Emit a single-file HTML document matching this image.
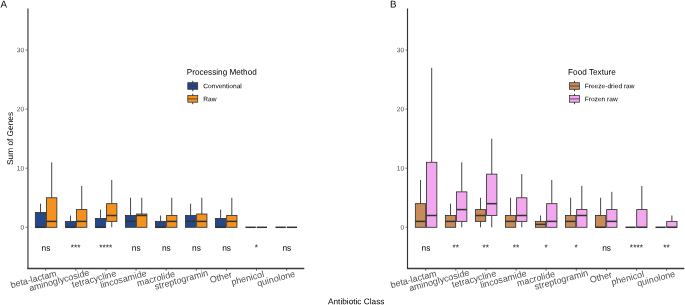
<!DOCTYPE html>
<html><head><meta charset="utf-8"><title>Figure</title>
<style>
html,body{margin:0;padding:0;background:#fff;}
body{width:685px;height:305px;overflow:hidden;}
svg{display:block;font-family:"Liberation Sans",sans-serif;text-rendering:geometricPrecision;}
</style></head><body>
<svg width="685" height="305" viewBox="0 0 685 305">
<rect width="685" height="305" fill="#fff"/>
<text transform="translate(0.5,7.5) rotate(-0.05)" font-size="9.75" fill="#000">A</text>
<line x1="40.50" x2="40.50" y1="203.67" y2="212.53" stroke="#333" stroke-width="0.9"/>
<rect x="35.35" y="212.53" width="10.3" height="14.77" fill="#24478a" stroke="#333" stroke-width="0.85"/>
<line x1="35.35" x2="45.65" y1="227.30" y2="227.30" stroke="#333" stroke-width="1.5"/>
<line x1="51.70" x2="51.70" y1="162.32" y2="197.77" stroke="#333" stroke-width="0.9"/>
<rect x="46.55" y="197.77" width="10.3" height="29.54" fill="#f5921e" stroke="#333" stroke-width="0.85"/>
<line x1="46.55" x2="56.85" y1="221.39" y2="221.39" stroke="#333" stroke-width="1.5"/>
<text transform="translate(45.90,250.85) rotate(-0.05)" font-size="8.4" text-anchor="middle" fill="#000">ns</text>
<line x1="45.70" x2="45.70" y1="268.4" y2="270.7" stroke="#444" stroke-width="0.8"/>
<text transform="translate(47.90,278.40) rotate(-15)" x="9.43" font-size="9.02" text-anchor="end" fill="#4d4d4d">beta-lactam</text>
<line x1="70.52" x2="70.52" y1="215.49" y2="221.39" stroke="#333" stroke-width="0.9"/>
<rect x="65.37" y="221.39" width="10.3" height="5.91" fill="#24478a" stroke="#333" stroke-width="0.85"/>
<line x1="65.37" x2="75.67" y1="227.30" y2="227.30" stroke="#333" stroke-width="1.5"/>
<line x1="81.72" x2="81.72" y1="185.95" y2="209.58" stroke="#333" stroke-width="0.9"/>
<rect x="76.57" y="209.58" width="10.3" height="17.72" fill="#f5921e" stroke="#333" stroke-width="0.85"/>
<line x1="76.57" x2="86.87" y1="221.39" y2="221.39" stroke="#333" stroke-width="1.5"/>
<text transform="translate(75.67,250.30) rotate(-0.05)" font-size="8.4" text-anchor="middle" fill="#000">***</text>
<line x1="75.82" x2="75.82" y1="268.4" y2="270.7" stroke="#444" stroke-width="0.8"/>
<text transform="translate(77.93,278.40) rotate(-15)" x="12.43" font-size="9.02" text-anchor="end" fill="#4d4d4d">aminoglycoside</text>
<line x1="100.54" x2="100.54" y1="209.58" y2="218.44" stroke="#333" stroke-width="0.9"/>
<rect x="95.39" y="218.44" width="10.3" height="8.86" fill="#24478a" stroke="#333" stroke-width="0.85"/>
<line x1="95.39" x2="105.69" y1="227.30" y2="227.30" stroke="#333" stroke-width="1.5"/>
<line x1="111.74" x2="111.74" y1="180.04" y2="203.67" stroke="#333" stroke-width="0.9"/>
<line x1="111.74" x2="111.74" y1="221.39" y2="227.30" stroke="#333" stroke-width="0.9"/>
<rect x="106.59" y="203.67" width="10.3" height="17.72" fill="#f5921e" stroke="#333" stroke-width="0.85"/>
<line x1="106.59" x2="116.89" y1="215.49" y2="215.49" stroke="#333" stroke-width="1.5"/>
<text transform="translate(105.79,250.30) rotate(-0.05)" font-size="8.4" text-anchor="middle" fill="#000">****</text>
<line x1="105.94" x2="105.94" y1="268.4" y2="270.7" stroke="#444" stroke-width="0.8"/>
<text transform="translate(107.96,278.40) rotate(-15)" x="9.12" font-size="9.02" text-anchor="end" fill="#4d4d4d">tetracycline</text>
<line x1="130.56" x2="130.56" y1="197.77" y2="215.49" stroke="#333" stroke-width="0.9"/>
<rect x="125.41" y="215.49" width="10.3" height="11.81" fill="#24478a" stroke="#333" stroke-width="0.85"/>
<line x1="125.41" x2="135.71" y1="221.39" y2="221.39" stroke="#333" stroke-width="1.5"/>
<line x1="141.76" x2="141.76" y1="197.77" y2="214.01" stroke="#333" stroke-width="0.9"/>
<rect x="136.61" y="214.01" width="10.3" height="13.29" fill="#f5921e" stroke="#333" stroke-width="0.85"/>
<line x1="136.61" x2="146.91" y1="215.49" y2="215.49" stroke="#333" stroke-width="1.5"/>
<text transform="translate(136.26,250.85) rotate(-0.05)" font-size="8.4" text-anchor="middle" fill="#000">ns</text>
<line x1="136.06" x2="136.06" y1="268.4" y2="270.7" stroke="#444" stroke-width="0.8"/>
<text transform="translate(137.99,278.40) rotate(-15)" x="9.53" font-size="9.02" text-anchor="end" fill="#4d4d4d">lincosamide</text>
<line x1="160.58" x2="160.58" y1="215.49" y2="221.39" stroke="#333" stroke-width="0.9"/>
<rect x="155.43" y="221.39" width="10.3" height="5.91" fill="#24478a" stroke="#333" stroke-width="0.85"/>
<line x1="155.43" x2="165.73" y1="227.30" y2="227.30" stroke="#333" stroke-width="1.5"/>
<line x1="171.78" x2="171.78" y1="197.77" y2="215.49" stroke="#333" stroke-width="0.9"/>
<rect x="166.63" y="215.49" width="10.3" height="11.81" fill="#f5921e" stroke="#333" stroke-width="0.85"/>
<line x1="166.63" x2="176.93" y1="221.39" y2="221.39" stroke="#333" stroke-width="1.5"/>
<text transform="translate(166.38,250.85) rotate(-0.05)" font-size="8.4" text-anchor="middle" fill="#000">ns</text>
<line x1="166.18" x2="166.18" y1="268.4" y2="270.7" stroke="#444" stroke-width="0.8"/>
<text transform="translate(168.02,278.40) rotate(-15)" x="7.82" font-size="9.02" text-anchor="end" fill="#4d4d4d">macrolide</text>
<line x1="190.60" x2="190.60" y1="203.67" y2="215.49" stroke="#333" stroke-width="0.9"/>
<rect x="185.45" y="215.49" width="10.3" height="11.81" fill="#24478a" stroke="#333" stroke-width="0.85"/>
<line x1="185.45" x2="195.75" y1="221.39" y2="221.39" stroke="#333" stroke-width="1.5"/>
<line x1="201.80" x2="201.80" y1="197.77" y2="214.01" stroke="#333" stroke-width="0.9"/>
<rect x="196.65" y="214.01" width="10.3" height="13.29" fill="#f5921e" stroke="#333" stroke-width="0.85"/>
<line x1="196.65" x2="206.95" y1="221.39" y2="221.39" stroke="#333" stroke-width="1.5"/>
<text transform="translate(196.50,250.85) rotate(-0.05)" font-size="8.4" text-anchor="middle" fill="#000">ns</text>
<line x1="196.30" x2="196.30" y1="268.4" y2="270.7" stroke="#444" stroke-width="0.8"/>
<text transform="translate(198.05,278.40) rotate(-15)" x="11.03" font-size="9.02" text-anchor="end" fill="#4d4d4d">streptogramin</text>
<line x1="220.62" x2="220.62" y1="209.58" y2="218.44" stroke="#333" stroke-width="0.9"/>
<rect x="215.47" y="218.44" width="10.3" height="8.86" fill="#24478a" stroke="#333" stroke-width="0.85"/>
<line x1="215.47" x2="225.77" y1="227.30" y2="227.30" stroke="#333" stroke-width="1.5"/>
<line x1="231.82" x2="231.82" y1="197.77" y2="215.49" stroke="#333" stroke-width="0.9"/>
<rect x="226.67" y="215.49" width="10.3" height="11.81" fill="#f5921e" stroke="#333" stroke-width="0.85"/>
<line x1="226.67" x2="236.97" y1="221.39" y2="221.39" stroke="#333" stroke-width="1.5"/>
<text transform="translate(226.62,250.85) rotate(-0.05)" font-size="8.4" text-anchor="middle" fill="#000">ns</text>
<line x1="226.42" x2="226.42" y1="268.4" y2="270.7" stroke="#444" stroke-width="0.8"/>
<text transform="translate(228.08,278.40) rotate(-15)" x="4.51" font-size="9.02" text-anchor="end" fill="#4d4d4d">Other</text>
<line x1="245.49" x2="255.79" y1="227.30" y2="227.30" stroke="#333" stroke-width="1.5"/>
<line x1="256.69" x2="266.99" y1="227.30" y2="227.30" stroke="#333" stroke-width="1.5"/>
<text transform="translate(256.39,250.30) rotate(-0.05)" font-size="8.4" text-anchor="middle" fill="#000">*</text>
<line x1="256.54" x2="256.54" y1="268.4" y2="270.7" stroke="#444" stroke-width="0.8"/>
<text transform="translate(258.11,278.40) rotate(-15)" x="6.72" font-size="9.02" text-anchor="end" fill="#4d4d4d">phenicol</text>
<line x1="275.51" x2="285.81" y1="227.30" y2="227.30" stroke="#333" stroke-width="1.5"/>
<line x1="286.71" x2="297.01" y1="227.30" y2="227.30" stroke="#333" stroke-width="1.5"/>
<text transform="translate(286.86,250.85) rotate(-0.05)" font-size="8.4" text-anchor="middle" fill="#000">ns</text>
<line x1="286.66" x2="286.66" y1="268.4" y2="270.7" stroke="#444" stroke-width="0.8"/>
<text transform="translate(288.14,278.40) rotate(-15)" x="7.82" font-size="9.02" text-anchor="end" fill="#4d4d4d">quinolone</text>
<line x1="27.95" x2="27.95" y1="8.5" y2="269.09999999999997" stroke="#333" stroke-width="1.15"/>
<line x1="27.3" x2="304.3" y1="268.5" y2="268.5" stroke="#3a3a3a" stroke-width="1.4"/>
<line x1="25.5" x2="27.7" y1="227.30" y2="227.30" stroke="#333" stroke-width="0.6"/>
<text transform="translate(24.10,229.45) rotate(-0.05)" font-size="6.6" text-anchor="end" fill="#4d4d4d">0</text>
<line x1="25.5" x2="27.7" y1="168.23" y2="168.23" stroke="#333" stroke-width="0.6"/>
<text transform="translate(24.10,170.38) rotate(-0.05)" font-size="6.6" text-anchor="end" fill="#4d4d4d">10</text>
<line x1="25.5" x2="27.7" y1="109.16" y2="109.16" stroke="#333" stroke-width="0.6"/>
<text transform="translate(24.10,111.31) rotate(-0.05)" font-size="6.6" text-anchor="end" fill="#4d4d4d">20</text>
<line x1="25.5" x2="27.7" y1="50.09" y2="50.09" stroke="#333" stroke-width="0.6"/>
<text transform="translate(24.10,52.24) rotate(-0.05)" font-size="6.6" text-anchor="end" fill="#4d4d4d">30</text>
<text transform="translate(186.7,74.7) rotate(-0.05)" font-size="8.2" fill="#000">Processing Method</text>
<line x1="192.74999999999997" x2="192.74999999999997" y1="80.8" y2="91.3" stroke="#333" stroke-width="0.95"/>
<rect x="187.79999999999998" y="82.7" width="9.9" height="6.6" fill="#24478a" stroke="#333" stroke-width="0.75"/>
<line x1="187.79999999999998" x2="197.7" y1="86.0" y2="86.0" stroke="#333" stroke-width="0.75"/>
<text transform="translate(203.30,88.30) rotate(-0.05)" font-size="6.6" fill="#000">Conventional</text>
<line x1="192.74999999999997" x2="192.74999999999997" y1="93.7" y2="104.2" stroke="#333" stroke-width="0.95"/>
<rect x="187.79999999999998" y="95.60000000000001" width="9.9" height="6.6" fill="#f5921e" stroke="#333" stroke-width="0.75"/>
<line x1="187.79999999999998" x2="197.7" y1="98.9" y2="98.9" stroke="#333" stroke-width="0.75"/>
<text transform="translate(203.30,101.20) rotate(-0.05)" font-size="6.6" fill="#000">Raw</text>
<text transform="translate(390.1,7.5) rotate(-0.05)" font-size="9.75" fill="#000">B</text>
<line x1="420.50" x2="420.50" y1="180.04" y2="203.67" stroke="#333" stroke-width="0.9"/>
<rect x="415.35" y="203.67" width="10.3" height="23.63" fill="#c88a56" stroke="#333" stroke-width="0.85"/>
<line x1="415.35" x2="425.65" y1="221.39" y2="221.39" stroke="#333" stroke-width="1.5"/>
<line x1="431.70" x2="431.70" y1="67.81" y2="162.32" stroke="#333" stroke-width="0.9"/>
<rect x="426.55" y="162.32" width="10.3" height="64.98" fill="#f2a7ee" stroke="#333" stroke-width="0.85"/>
<line x1="426.55" x2="436.85" y1="215.49" y2="215.49" stroke="#333" stroke-width="1.5"/>
<text transform="translate(425.90,250.85) rotate(-0.05)" font-size="8.4" text-anchor="middle" fill="#000">ns</text>
<line x1="425.70" x2="425.70" y1="268.4" y2="270.7" stroke="#444" stroke-width="0.8"/>
<text transform="translate(427.90,278.40) rotate(-15)" x="9.43" font-size="9.02" text-anchor="end" fill="#4d4d4d">beta-lactam</text>
<line x1="450.52" x2="450.52" y1="203.67" y2="215.49" stroke="#333" stroke-width="0.9"/>
<rect x="445.37" y="215.49" width="10.3" height="11.81" fill="#c88a56" stroke="#333" stroke-width="0.85"/>
<line x1="445.37" x2="455.67" y1="221.39" y2="221.39" stroke="#333" stroke-width="1.5"/>
<line x1="461.72" x2="461.72" y1="162.32" y2="191.86" stroke="#333" stroke-width="0.9"/>
<line x1="461.72" x2="461.72" y1="221.39" y2="227.30" stroke="#333" stroke-width="0.9"/>
<rect x="456.57" y="191.86" width="10.3" height="29.54" fill="#f2a7ee" stroke="#333" stroke-width="0.85"/>
<line x1="456.57" x2="466.87" y1="209.58" y2="209.58" stroke="#333" stroke-width="1.5"/>
<text transform="translate(455.67,250.30) rotate(-0.05)" font-size="8.4" text-anchor="middle" fill="#000">**</text>
<line x1="455.82" x2="455.82" y1="268.4" y2="270.7" stroke="#444" stroke-width="0.8"/>
<text transform="translate(457.93,278.40) rotate(-15)" x="12.43" font-size="9.02" text-anchor="end" fill="#4d4d4d">aminoglycoside</text>
<line x1="480.54" x2="480.54" y1="197.77" y2="209.58" stroke="#333" stroke-width="0.9"/>
<line x1="480.54" x2="480.54" y1="221.39" y2="227.30" stroke="#333" stroke-width="0.9"/>
<rect x="475.39" y="209.58" width="10.3" height="11.81" fill="#c88a56" stroke="#333" stroke-width="0.85"/>
<line x1="475.39" x2="485.69" y1="215.49" y2="215.49" stroke="#333" stroke-width="1.5"/>
<line x1="491.74" x2="491.74" y1="138.69" y2="174.14" stroke="#333" stroke-width="0.9"/>
<line x1="491.74" x2="491.74" y1="215.49" y2="227.30" stroke="#333" stroke-width="0.9"/>
<rect x="486.59" y="174.14" width="10.3" height="41.35" fill="#f2a7ee" stroke="#333" stroke-width="0.85"/>
<line x1="486.59" x2="496.89" y1="203.67" y2="203.67" stroke="#333" stroke-width="1.5"/>
<text transform="translate(485.79,250.30) rotate(-0.05)" font-size="8.4" text-anchor="middle" fill="#000">**</text>
<line x1="485.94" x2="485.94" y1="268.4" y2="270.7" stroke="#444" stroke-width="0.8"/>
<text transform="translate(487.96,278.40) rotate(-15)" x="9.12" font-size="9.02" text-anchor="end" fill="#4d4d4d">tetracycline</text>
<line x1="510.56" x2="510.56" y1="197.77" y2="215.49" stroke="#333" stroke-width="0.9"/>
<rect x="505.41" y="215.49" width="10.3" height="11.81" fill="#c88a56" stroke="#333" stroke-width="0.85"/>
<line x1="505.41" x2="515.71" y1="221.39" y2="221.39" stroke="#333" stroke-width="1.5"/>
<line x1="521.76" x2="521.76" y1="174.14" y2="197.77" stroke="#333" stroke-width="0.9"/>
<line x1="521.76" x2="521.76" y1="221.39" y2="227.30" stroke="#333" stroke-width="0.9"/>
<rect x="516.61" y="197.77" width="10.3" height="23.63" fill="#f2a7ee" stroke="#333" stroke-width="0.85"/>
<line x1="516.61" x2="526.91" y1="215.49" y2="215.49" stroke="#333" stroke-width="1.5"/>
<text transform="translate(515.91,250.30) rotate(-0.05)" font-size="8.4" text-anchor="middle" fill="#000">**</text>
<line x1="516.06" x2="516.06" y1="268.4" y2="270.7" stroke="#444" stroke-width="0.8"/>
<text transform="translate(517.99,278.40) rotate(-15)" x="9.53" font-size="9.02" text-anchor="end" fill="#4d4d4d">lincosamide</text>
<line x1="540.58" x2="540.58" y1="215.49" y2="221.39" stroke="#333" stroke-width="0.9"/>
<rect x="535.43" y="221.39" width="10.3" height="5.91" fill="#c88a56" stroke="#333" stroke-width="0.85"/>
<line x1="535.43" x2="545.73" y1="224.35" y2="224.35" stroke="#333" stroke-width="1.5"/>
<line x1="551.78" x2="551.78" y1="180.04" y2="203.67" stroke="#333" stroke-width="0.9"/>
<rect x="546.63" y="203.67" width="10.3" height="23.63" fill="#f2a7ee" stroke="#333" stroke-width="0.85"/>
<line x1="546.63" x2="556.93" y1="221.39" y2="221.39" stroke="#333" stroke-width="1.5"/>
<text transform="translate(546.03,250.30) rotate(-0.05)" font-size="8.4" text-anchor="middle" fill="#000">*</text>
<line x1="546.18" x2="546.18" y1="268.4" y2="270.7" stroke="#444" stroke-width="0.8"/>
<text transform="translate(548.02,278.40) rotate(-15)" x="7.82" font-size="9.02" text-anchor="end" fill="#4d4d4d">macrolide</text>
<line x1="570.60" x2="570.60" y1="197.77" y2="215.49" stroke="#333" stroke-width="0.9"/>
<rect x="565.45" y="215.49" width="10.3" height="11.81" fill="#c88a56" stroke="#333" stroke-width="0.85"/>
<line x1="565.45" x2="575.75" y1="221.39" y2="221.39" stroke="#333" stroke-width="1.5"/>
<line x1="581.80" x2="581.80" y1="185.95" y2="209.58" stroke="#333" stroke-width="0.9"/>
<rect x="576.65" y="209.58" width="10.3" height="17.72" fill="#f2a7ee" stroke="#333" stroke-width="0.85"/>
<line x1="576.65" x2="586.95" y1="215.49" y2="215.49" stroke="#333" stroke-width="1.5"/>
<text transform="translate(576.15,250.30) rotate(-0.05)" font-size="8.4" text-anchor="middle" fill="#000">*</text>
<line x1="576.30" x2="576.30" y1="268.4" y2="270.7" stroke="#444" stroke-width="0.8"/>
<text transform="translate(578.05,278.40) rotate(-15)" x="11.03" font-size="9.02" text-anchor="end" fill="#4d4d4d">streptogramin</text>
<line x1="600.62" x2="600.62" y1="197.77" y2="215.49" stroke="#333" stroke-width="0.9"/>
<rect x="595.47" y="215.49" width="10.3" height="11.81" fill="#c88a56" stroke="#333" stroke-width="0.85"/>
<line x1="595.47" x2="605.77" y1="227.30" y2="227.30" stroke="#333" stroke-width="1.5"/>
<line x1="611.82" x2="611.82" y1="191.86" y2="209.58" stroke="#333" stroke-width="0.9"/>
<rect x="606.67" y="209.58" width="10.3" height="17.72" fill="#f2a7ee" stroke="#333" stroke-width="0.85"/>
<line x1="606.67" x2="616.97" y1="221.39" y2="221.39" stroke="#333" stroke-width="1.5"/>
<text transform="translate(606.62,250.85) rotate(-0.05)" font-size="8.4" text-anchor="middle" fill="#000">ns</text>
<line x1="606.42" x2="606.42" y1="268.4" y2="270.7" stroke="#444" stroke-width="0.8"/>
<text transform="translate(608.08,278.40) rotate(-15)" x="4.51" font-size="9.02" text-anchor="end" fill="#4d4d4d">Other</text>
<line x1="625.49" x2="635.79" y1="227.30" y2="227.30" stroke="#333" stroke-width="1.5"/>
<line x1="641.84" x2="641.84" y1="185.95" y2="209.58" stroke="#333" stroke-width="0.9"/>
<rect x="636.69" y="209.58" width="10.3" height="17.72" fill="#f2a7ee" stroke="#333" stroke-width="0.85"/>
<line x1="636.69" x2="646.99" y1="227.30" y2="227.30" stroke="#333" stroke-width="1.5"/>
<text transform="translate(636.39,250.30) rotate(-0.05)" font-size="8.4" text-anchor="middle" fill="#000">****</text>
<line x1="636.54" x2="636.54" y1="268.4" y2="270.7" stroke="#444" stroke-width="0.8"/>
<text transform="translate(638.11,278.40) rotate(-15)" x="6.72" font-size="9.02" text-anchor="end" fill="#4d4d4d">phenicol</text>
<line x1="655.51" x2="665.81" y1="227.30" y2="227.30" stroke="#333" stroke-width="1.5"/>
<line x1="671.86" x2="671.86" y1="215.49" y2="221.39" stroke="#333" stroke-width="0.9"/>
<rect x="666.71" y="221.39" width="10.3" height="5.91" fill="#f2a7ee" stroke="#333" stroke-width="0.85"/>
<line x1="666.71" x2="677.01" y1="227.30" y2="227.30" stroke="#333" stroke-width="1.5"/>
<text transform="translate(666.51,250.30) rotate(-0.05)" font-size="8.4" text-anchor="middle" fill="#000">**</text>
<line x1="666.66" x2="666.66" y1="268.4" y2="270.7" stroke="#444" stroke-width="0.8"/>
<text transform="translate(668.14,278.40) rotate(-15)" x="7.82" font-size="9.02" text-anchor="end" fill="#4d4d4d">quinolone</text>
<line x1="407.5" x2="407.5" y1="8.5" y2="269.09999999999997" stroke="#333" stroke-width="1.15"/>
<line x1="407.3" x2="684.3" y1="268.5" y2="268.5" stroke="#3a3a3a" stroke-width="1.4"/>
<line x1="405.5" x2="407.7" y1="227.30" y2="227.30" stroke="#333" stroke-width="0.6"/>
<text transform="translate(404.10,229.45) rotate(-0.05)" font-size="6.6" text-anchor="end" fill="#4d4d4d">0</text>
<line x1="405.5" x2="407.7" y1="168.23" y2="168.23" stroke="#333" stroke-width="0.6"/>
<text transform="translate(404.10,170.38) rotate(-0.05)" font-size="6.6" text-anchor="end" fill="#4d4d4d">10</text>
<line x1="405.5" x2="407.7" y1="109.16" y2="109.16" stroke="#333" stroke-width="0.6"/>
<text transform="translate(404.10,111.31) rotate(-0.05)" font-size="6.6" text-anchor="end" fill="#4d4d4d">20</text>
<line x1="405.5" x2="407.7" y1="50.09" y2="50.09" stroke="#333" stroke-width="0.6"/>
<text transform="translate(404.10,52.24) rotate(-0.05)" font-size="6.6" text-anchor="end" fill="#4d4d4d">30</text>
<text transform="translate(568.1,74.7) rotate(-0.05)" font-size="8.2" fill="#000">Food Texture</text>
<line x1="574.5000000000001" x2="574.5000000000001" y1="80.8" y2="91.3" stroke="#333" stroke-width="0.95"/>
<rect x="569.5500000000001" y="82.7" width="9.9" height="6.6" fill="#c88a56" stroke="#333" stroke-width="0.75"/>
<line x1="569.5500000000001" x2="579.45" y1="86.0" y2="86.0" stroke="#333" stroke-width="0.75"/>
<text transform="translate(584.70,88.30) rotate(-0.05)" font-size="6.6" fill="#000">Freeze-dried raw</text>
<line x1="574.5000000000001" x2="574.5000000000001" y1="93.7" y2="104.2" stroke="#333" stroke-width="0.95"/>
<rect x="569.5500000000001" y="95.60000000000001" width="9.9" height="6.6" fill="#f2a7ee" stroke="#333" stroke-width="0.75"/>
<line x1="569.5500000000001" x2="579.45" y1="98.9" y2="98.9" stroke="#333" stroke-width="0.75"/>
<text transform="translate(584.70,101.20) rotate(-0.05)" font-size="6.6" fill="#000">Frozen raw</text>
<text transform="translate(13.1,138.45) rotate(-90.05)" font-size="8.3" text-anchor="middle" fill="#000">Sum of Genes</text>
<text transform="translate(356.2,304.2) rotate(-0.05)" font-size="8.25" text-anchor="middle" fill="#000">Antibiotic Class</text>
</svg>
</body></html>
